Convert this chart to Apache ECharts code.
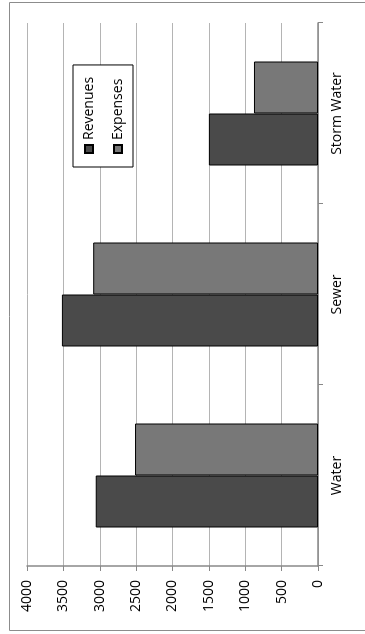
<!DOCTYPE html>
<html>
<head>
<meta charset="utf-8">
<script src="https://cdn.jsdelivr.net/npm/echarts@6/dist/echarts.min.js"></script>
<style>
  html, body { margin: 0; padding: 0; background: #fff; overflow: hidden; }
  /* the chart is drawn as normal columns, then the whole box is turned 90deg */
  #chart {
    position: absolute; left: 0; top: 0;
    width: 634px; height: 365px;
    transform-origin: 0 0;
    transform: translateY(634px) rotate(-90deg);
  }
</style>
</head>
<body>
<div id="chart"></div>
<script>
  const categories = ['Water', 'Sewer', 'Storm Water'];
  const revenues = [3055, 3520, 1500];
  const expenses = [2515, 3090, 880];
  const valueTicks = { min: 0, max: 4000, interval: 500 };

  const font = '"Open Sans", "Liberation Sans", sans-serif';
  const chart = echarts.init(document.getElementById('chart'));

  chart.setOption({
    animation: false,
    backgroundColor: '#fff',
    textStyle: { fontFamily: font },
    graphic: [{
      type: 'rect',
      shape: { x: 3.5, y: 9.5, width: 628, height: 420 },
      style: { fill: 'none', stroke: '#8c8c8c', lineWidth: 1 },
      silent: true
    }],
    legend: {
      orient: 'vertical',
      left: 467,
      top: 73,
      padding: [8, 12, 7, 13],
      backgroundColor: '#fff',
      borderColor: '#000',
      borderWidth: 1,
      borderRadius: 0,
      icon: 'rect',
      itemWidth: 8,
      itemHeight: 8,
      itemGap: 13,
      textStyle: { fontSize: 14, color: '#000', lineHeight: 16 },
      data: ['Revenues', 'Expenses']
    },
    grid: { left: 68, right: 23, top: 27, bottom: 47 },
    xAxis: {
      type: 'category',
      data: categories,
      axisLine: { lineStyle: { color: '#888', width: 1.5 } },
      axisTick: { show: true, length: 5, lineStyle: { color: '#888' } },
      axisLabel: { fontSize: 14, color: '#000', margin: 12 }
    },
    yAxis: {
      type: 'value',
      min: valueTicks.min,
      max: valueTicks.max,
      interval: valueTicks.interval,
      axisLine: { show: true, lineStyle: { color: '#888', width: 1.5 } },
      axisTick: { show: true, length: 5, lineStyle: { color: '#888' } },
      axisLabel: { fontSize: 14, color: '#000', margin: 14, formatter: v => String(v) },
      splitLine: { lineStyle: { color: '#b4b4b4', width: 1 } }
    },
    series: [
      {
        name: 'Revenues',
        type: 'bar',
        data: revenues,
        barWidth: 52,
        barGap: '0%',
        itemStyle: { color: '#4a4a4a', borderColor: '#000', borderWidth: 1 }
      },
      {
        name: 'Expenses',
        type: 'bar',
        data: expenses,
        barWidth: 52,
        barGap: '0%',
        itemStyle: { color: '#787878', borderColor: '#000', borderWidth: 1 }
      }
    ]
  });
</script>
</body>
</html>
